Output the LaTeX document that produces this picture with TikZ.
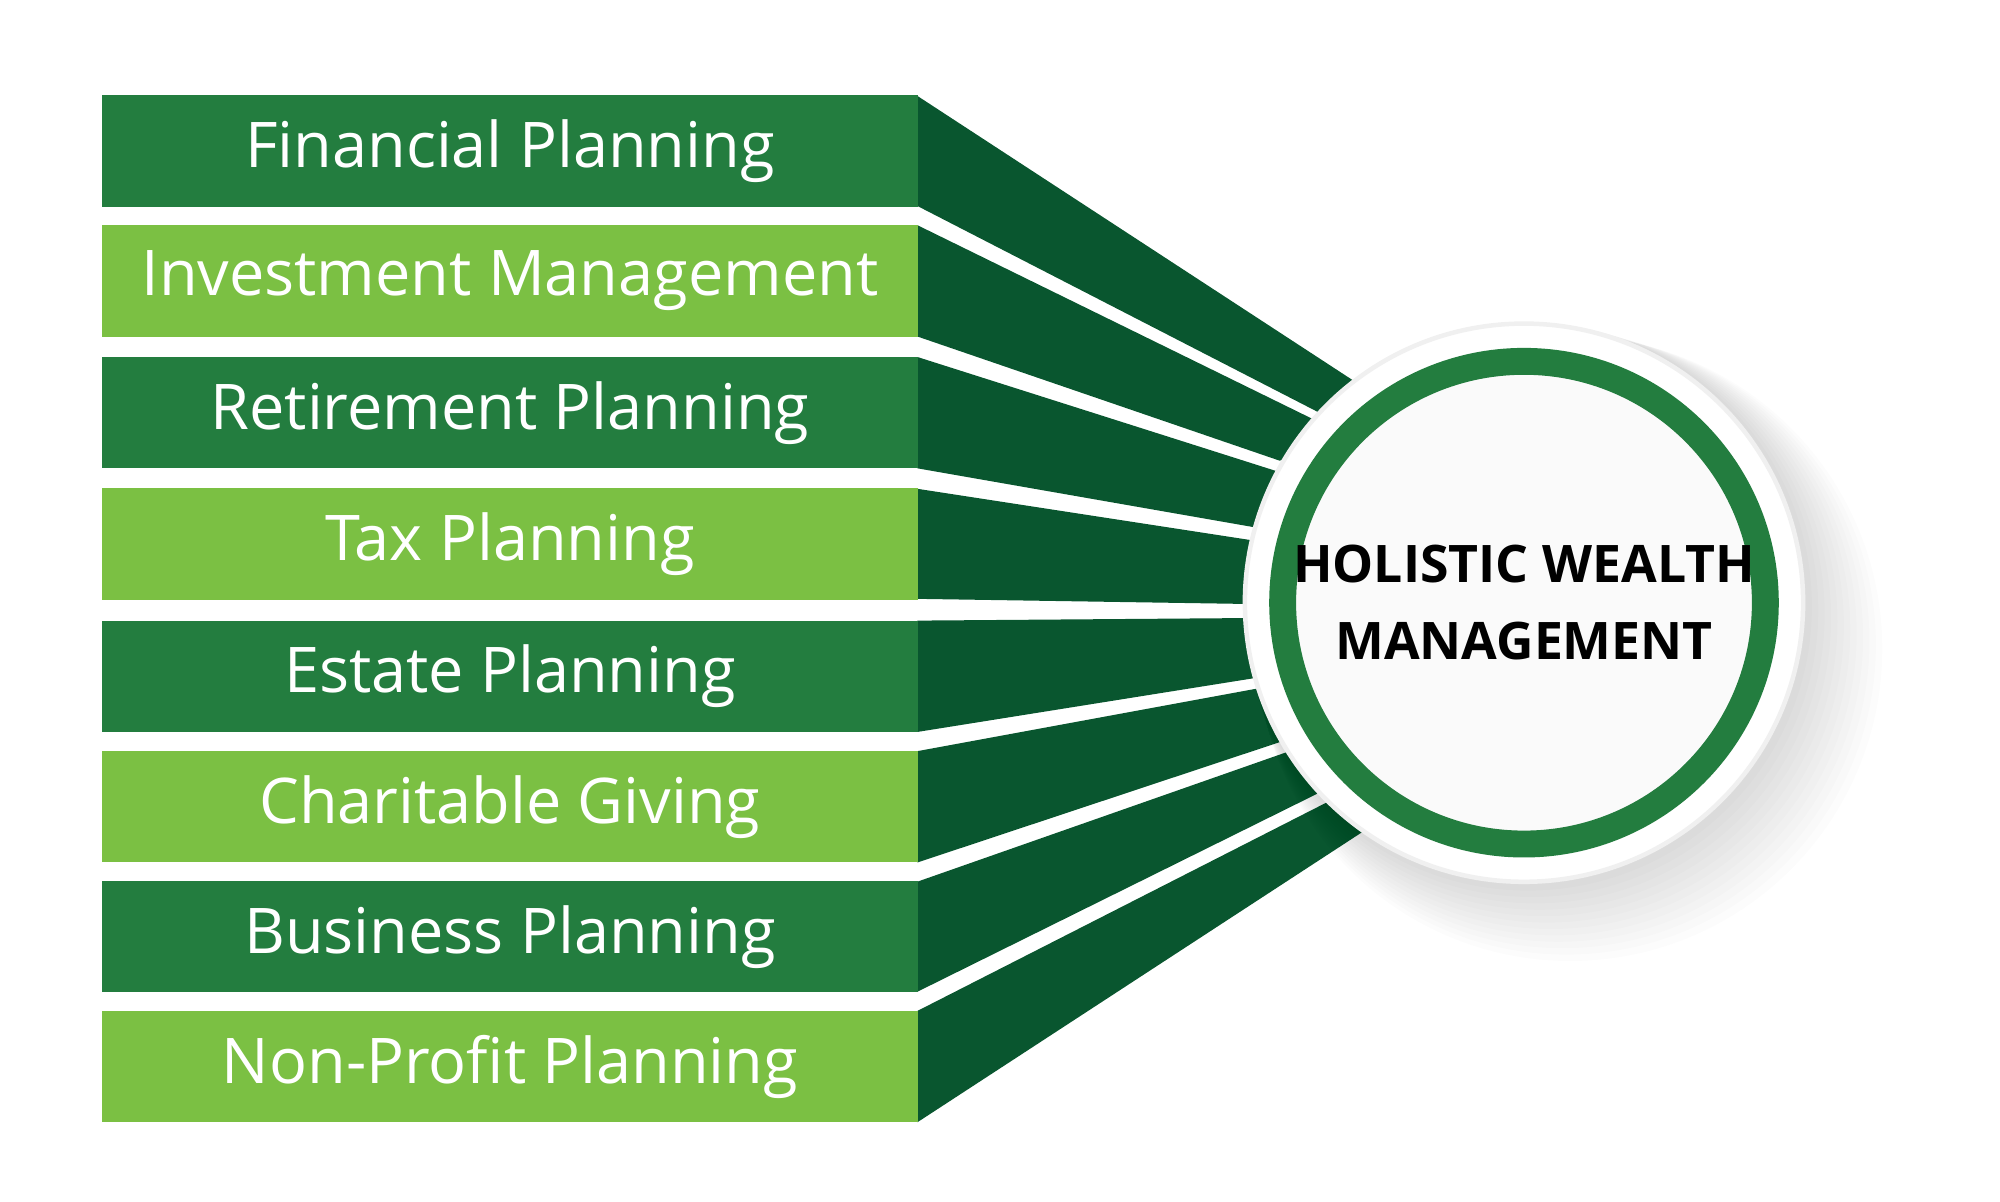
\documentclass[tikz,border=0pt]{standalone}
\usepackage{fontspec}
\setmainfont{Open Sans}
\usetikzlibrary{positioning,calc}
\definecolor{darkbar}{HTML}{237D3F}
\definecolor{lightbar}{HTML}{7BC043}
\definecolor{wedge}{HTML}{09562F}
\tikzset{
	barbox/.style={minimum width=6.37cm,minimum height=0.87cm,inner sep=0pt,text=white,font=\fontsize{14}{16}\selectfont},
}
\begin{document}
\begin{tikzpicture}[x=0.01cm,y=-0.01cm]
	\useasboundingbox (0,0) rectangle (1563,939);

	% wedges: bar right edge to circle
	\foreach \ya/\yb/\ptop/\pbot in {75/161/{1057,297}/{1030,322},176/263/{1027,328}/{1000,360},279/366/{997,368}/{980,412},382/468/{977,422}/{975,472},485/572/{975,483}/{980,530},587/674/{983,538}/{1000,580},689/775/{1005,588}/{1030,620},790/877/{1037,627}/{1065,650}}
		\fill[wedge] (717,\ya) -- (\ptop) -- ($(\ptop)!0.5!(\pbot)+(40,0)$) -- (\pbot) -- (717,\yb) -- cycle;

	% shadow
	\foreach \i in {1,...,12}
		\fill[black,opacity=0.012] (1191+3*\i,471+3*\i) circle (220+2*\i);

	% bars
	\foreach \n/\y/\c/\t in {fin/118/darkbar/Financial Planning,inv/219.5/lightbar/Investment Management,ret/322.5/darkbar/Retirement Planning,tax/425/lightbar/Tax Planning,est/528.5/darkbar/Estate Planning,cha/630.5/lightbar/Charitable Giving,bus/732/darkbar/Business Planning,non/833.5/lightbar/Non-Profit Planning}
		\node[barbox,fill=\c] (\n) at (398.5,\y) {\t};

	% hub
	\node[circle,fill=white,draw=black!6,line width=1pt,minimum size=4.36cm] (hubring) at (1191,471) {};
	\node[circle,fill=black!2,draw=darkbar,line width=0.21cm,minimum size=3.77cm] (hub) at (1191,471) {};
	\node[align=center,font=\bfseries\fontsize{11.5}{17}\selectfont] (hubtext) at (hub) {HOLISTIC WEALTH\\MANAGEMENT};
\end{tikzpicture}
\end{document}
